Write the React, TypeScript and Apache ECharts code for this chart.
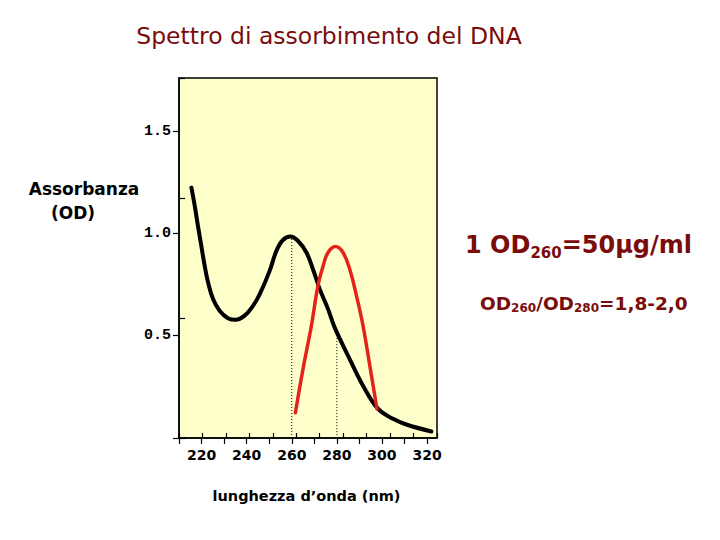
import React, { useEffect, useRef } from "react";
import * as echarts from "echarts";

// DNA absorbance (OD) vs wavelength (nm)
const blackCurve: [number, number][] = [
  [215.5, 1.224], [217, 1.134], [218.4, 1.037], [219.9, 0.939], [221.4, 0.841],
  [222.9, 0.76], [225.1, 0.679], [228, 0.622], [231.7, 0.586], [235.1, 0.578],
  [239.1, 0.598], [242.8, 0.646], [245.8, 0.703], [250.2, 0.817], [253.2, 0.915],
  [256.1, 0.968], [259.4, 0.985], [262.8, 0.963], [266.5, 0.907], [269.4, 0.825],
  [272.4, 0.728], [276.1, 0.63], [279, 0.541], [285.7, 0.386], [291.6, 0.256],
  [298.3, 0.142], [304.9, 0.094], [310.8, 0.066], [321.9, 0.032],
];
const redCurve: [number, number][] = [
  [261.6, 0.123], [265, 0.338], [268.7, 0.549], [271.6, 0.744], [273.9, 0.841],
  [276.1, 0.907], [279.4, 0.936], [282.7, 0.907], [285.7, 0.825], [288.7, 0.695],
  [291.6, 0.549], [294.6, 0.354], [297.8, 0.142],
];
const line260: [number, number][] = [[260, 0], [260, 0.985]];
const line280: [number, number][] = [[280, -0.03], [280, 0.5]];
const xTicks = [210, 220, 230, 240, 250, 260, 270, 280, 290, 300, 310, 320];
const xLabels = [220, 240, 260, 280, 300, 320];
const yTicks = [0, 0.5, 1.0, 1.5];
const yLabels = [0.5, 1.0, 1.5];

const DARK_RED = "#7a0c0c";
const FONT = "DejaVu Sans";

export default function App() {
  const ref = useRef<HTMLDivElement>(null);
  useEffect(() => {
    const chart = echarts.init(ref.current!, null, { renderer: "svg" });
    const gridRect = { left: 179, top: 78, width: 258, height: 360 };
    const tickStyle = { color: "#000", width: 1.2 };
    chart.setOption({
      animation: false,
      backgroundColor: "#ffffff",
      grid: [
        { ...gridRect, show: true, backgroundColor: "#ffffcc", borderColor: "#000", borderWidth: 1.5 },
        { ...gridRect, show: false },
      ],
      xAxis: [
        {
          type: "value", min: 210, max: 324.4, gridIndex: 0, position: "bottom",
          axisLine: { show: true, onZero: false, lineStyle: { color: "#000", width: 1.5 } },
          axisTick: { show: true, length: 6, customValues: xTicks, lineStyle: tickStyle },
          axisLabel: {
            customValues: xLabels, margin: 10,
            fontFamily: FONT, fontWeight: "bold", fontSize: 14, color: "#000",
            formatter: (v: number) => String(v),
          },
          splitLine: { show: false },
        },
        {
          type: "value", min: 210, max: 320, interval: 10, gridIndex: 1, position: "bottom",
          axisLine: { show: false, onZero: false },
          axisTick: { show: true, inside: true, length: 5, lineStyle: tickStyle },
          axisLabel: { show: false },
          splitLine: { show: false },
        },
      ],
      yAxis: [
        {
          type: "value", min: 0, max: 1.76, gridIndex: 0, position: "left",
          axisLine: { show: true, onZero: false, lineStyle: { color: "#000", width: 1.5 } },
          axisTick: { show: true, length: 6, customValues: yTicks, lineStyle: tickStyle },
          axisLabel: {
            customValues: yLabels, margin: 8,
            fontFamily: "Liberation Mono", fontWeight: "bold", fontSize: 15, color: "#000",
            formatter: (v: number) => v.toFixed(1),
          },
          splitLine: { show: false },
        },
        {
          type: "value", min: 0, max: 1.5, interval: 0.5, gridIndex: 1, position: "left",
          axisLine: { show: false, onZero: false },
          axisTick: { show: true, inside: true, length: 6, lineStyle: tickStyle },
          axisLabel: { show: false },
          splitLine: { show: false },
        },
      ],
      series: [
        {
          type: "line", data: line260, xAxisIndex: 0, yAxisIndex: 0, showSymbol: false,
          lineStyle: { color: "#000", width: 1, type: [1, 2] }, silent: true,
        },
        {
          type: "line", data: line280, xAxisIndex: 0, yAxisIndex: 0, showSymbol: false,
          lineStyle: { color: "#000", width: 1, type: [1, 2] }, silent: true,
        },
        {
          type: "line", data: blackCurve, xAxisIndex: 0, yAxisIndex: 0, showSymbol: false,
          smooth: 0.4, lineStyle: { color: "#000", width: 4, cap: "round", join: "round" },
        },
        {
          type: "line", data: redCurve, xAxisIndex: 0, yAxisIndex: 0, showSymbol: false,
          smooth: 0.4, lineStyle: { color: "#e3231b", width: 3.5, cap: "round", join: "round" },
        },
      ],
      graphic: [
        {
          type: "text", x: 329, y: 36,
          style: {
            text: "Spettro di assorbimento del DNA", fontFamily: FONT, fontSize: 23.5,
            fill: DARK_RED, textAlign: "center", textVerticalAlign: "middle",
          },
        },
        {
          type: "text", x: 84, y: 189,
          style: {
            text: "Assorbanza", fontFamily: FONT, fontSize: 17, fontWeight: "bold",
            fill: "#000", textAlign: "center", textVerticalAlign: "middle",
          },
        },
        {
          type: "text", x: 73, y: 213,
          style: {
            text: "(OD)", fontFamily: FONT, fontSize: 17, fontWeight: "bold",
            fill: "#000", textAlign: "center", textVerticalAlign: "middle",
          },
        },
        {
          type: "text", x: 465, y: 245,
          style: {
            text: "{a|1 OD}{s|260}{a|=50µg/ml}",
            textAlign: "left", textVerticalAlign: "middle",
            rich: {
              a: { fontFamily: FONT, fontSize: 24, fontWeight: "bold", fill: DARK_RED, verticalAlign: "middle" },
              s: { fontFamily: FONT, fontSize: 15, fontWeight: "bold", fill: DARK_RED, verticalAlign: "middle", padding: [16, 0, 0, 0] },
            },
          },
        },
        {
          type: "text", x: 480, y: 303,
          style: {
            text: "{a|OD}{s|260}{a|/OD}{s|280}{a|=1,8-2,0}",
            textAlign: "left", textVerticalAlign: "middle",
            rich: {
              a: { fontFamily: FONT, fontSize: 18.5, fontWeight: "bold", fill: DARK_RED, verticalAlign: "middle" },
              s: { fontFamily: FONT, fontSize: 12, fontWeight: "bold", fill: DARK_RED, verticalAlign: "middle", padding: [10, 0, 0, 0] },
            },
          },
        },
        {
          type: "text", x: 306.5, y: 496,
          style: {
            text: "lunghezza d’onda (nm)", fontFamily: FONT, fontSize: 14.5, fontWeight: "bold",
            fill: "#000", textAlign: "center", textVerticalAlign: "middle",
          },
        },
      ],
    });
    return () => chart.dispose();
  }, []);
  return (
    <div
      ref={ref}
      style={{ position: "fixed", left: 0, top: 0, width: 720, height: 540, background: "#fff" }}
    />
  );
}
